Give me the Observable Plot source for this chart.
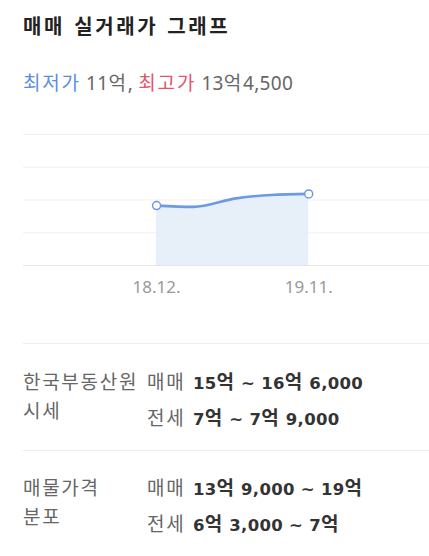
<!DOCTYPE html>
<html><head><meta charset="utf-8">
<script src="https://cdn.jsdelivr.net/npm/d3@7"></script>
<script src="https://cdn.jsdelivr.net/npm/@observablehq/plot@0.6"></script>
<style>
html,body{margin:0;padding:0;background:#fff;}
#wrap{position:relative;width:429px;height:556px;overflow:hidden;font-family:"Noto Sans CJK KR","Noto Sans",sans-serif;}
.abs{position:absolute;white-space:nowrap;}
.title{left:23px;top:14px;font-size:20px;line-height:24px;font-weight:bold;color:#222;letter-spacing:2.6px;word-spacing:2px;}
.sub{left:23px;top:70px;font-size:19px;line-height:24px;color:#666;font-family:"Noto Sans","Noto Sans CJK KR",sans-serif;letter-spacing:0.3px;}
.lab{font-size:19px;line-height:24px;color:#666;letter-spacing:1.7px;}
.val{color:#333;letter-spacing:0.3px;font-family:"DejaVu Sans","Noto Sans CJK KR",sans-serif;font-weight:bold;font-size:16.5px;}
.hg{font-family:"Noto Sans CJK KR",sans-serif;font-size:19px;letter-spacing:1px;}
.hgs{font-family:"Noto Sans CJK KR",sans-serif;font-size:19px;letter-spacing:1.8px;}
.hr{position:absolute;left:23px;width:406px;height:1px;background:#eeeeee;}
#chart{position:absolute;left:0;top:120px;}
</style></head>
<body><div id="wrap">
<div class="abs title">매매 실거래가 그래프</div>
<div class="abs sub" id="sub"></div>
<div id="chart"></div>
<div class="hr" style="top:343px"></div>
<div class="hr" style="top:450px"></div>
<div id="table"></div>
</div>
<script>
// data
const dates = ["2018-12-01", "2019-02-20", "2019-05-25", "2019-08-10", "2019-11-01"];
const prices = [11.25, 11.0, 12.6, 13.25, 13.45]; // 억
const xDomain = ["2018-02-11", "2020-07-24"];
const yMax = 24.6;
const minLabel = "11억", maxLabel = "13억4,500";
const sectionNames = [["한국부동산원", "시세"], ["매물가격", "분포"]];
const rowKinds = ["매매", "전세"];
const rowValues = [["15억 ~ 16억 6,000", "7억 ~ 7억 9,000"], ["13억 9,000 ~ 19억", "6억 3,000 ~ 7억"]];

const data = dates.map((d, i) => ({date: new Date(d), price: prices[i]}));
const blue = "#6d9ae3";

// wrap Hangul runs in a span of the given class
function wrapHangul(str, cls) {
  return str.replace(/([\uAC00-\uD7A3]+)/g, `<span class="${cls}">$1</span>`);
}

document.getElementById("sub").innerHTML =
  `<span class="hgs" style="color:#5b8de3">최저가</span> ${wrapHangul(minLabel, "hgs")}, <span class="hgs" style="color:#e5536d">최고가</span> ${wrapHangul(maxLabel, "hgs")}`;

const gridTicks = [1, 2, 3, 4].map(k => yMax * k / 4);
const chart = Plot.plot({
  width: 429, height: 190,
  marginLeft: 23, marginRight: 0, marginTop: 14, marginBottom: 45,
  style: {fontFamily: "'Noto Sans','Noto Sans CJK KR',sans-serif", fontSize: "17px", color: "#999", background: "transparent"},
  x: {type: "utc", domain: xDomain.map(d => new Date(d)), ticks: [data[0].date, data[data.length-1].date],
      tickFormat: d3.utcFormat("%y.%m."), tickSize: 0, tickPadding: 15, label: null},
  y: {domain: [0, yMax], axis: null},
  marks: [
    Plot.ruleY(gridTicks, {stroke: "#f1f1f1", strokeWidth: 1}),
    Plot.areaY(data, {x: "date", y: "price", fill: "#e7eff8", curve: "monotone-x"}),
    Plot.ruleY([0], {stroke: "#e3e6ea", strokeWidth: 1.2}),
    Plot.lineY(data, {x: "date", y: "price", stroke: blue, strokeWidth: 2.6, curve: "monotone-x"}),
    Plot.dot([data[0], data[data.length-1]], {x: "date", y: "price", r: 4, fill: "#fff", stroke: blue, strokeWidth: 1.5})
  ]
});
document.getElementById("chart").appendChild(chart);

const table = document.getElementById("table");
const sectionTops = [369, 475];
const rowOffsets = [0, 35.5];
sectionNames.forEach((names, s) => {
  names.forEach((n, j) => {
    const el = document.createElement("div");
    el.className = "abs lab";
    el.style.left = "23px";
    el.style.top = (sectionTops[s] + j * 29) + "px";
    el.textContent = n;
    table.appendChild(el);
  });
  rowKinds.forEach((k, r) => {
    const a = document.createElement("div");
    a.className = "abs lab";
    a.style.left = "147px";
    a.style.top = (sectionTops[s] + rowOffsets[r]) + "px";
    a.textContent = k;
    table.appendChild(a);
    const b = document.createElement("div");
    b.className = "abs lab val";
    b.style.left = "193px";
    b.style.top = (sectionTops[s] + rowOffsets[r]) + "px";
    b.innerHTML = wrapHangul(rowValues[s][r], "hg");
    table.appendChild(b);
  });
});
</script>
</body></html>
